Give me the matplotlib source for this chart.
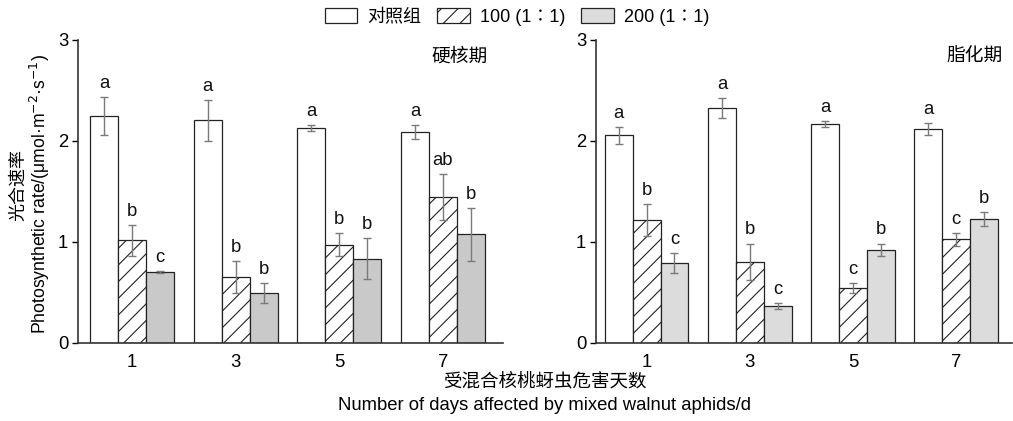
import matplotlib

matplotlib.use("Agg")
import matplotlib.pyplot as plt
import numpy as np
from matplotlib.patches import Patch

plt.rcParams["font.family"] = ["Liberation Sans", "Noto Sans CJK SC", "DejaVu Sans"]
plt.rcParams["hatch.linewidth"] = 0.8

# ---- data ----
days = ["1", "3", "5", "7"]
series_names = ["对照组", "100 (1∶1)", "200 (1∶1)"]

# 硬核期
hard_ctrl = [2.24, 2.20, 2.12, 2.08]
hard_ctrl_err = [0.19, 0.20, 0.03, 0.07]
hard_100 = [1.01, 0.65, 0.97, 1.44]
hard_100_err = [0.15, 0.16, 0.11, 0.23]
hard_200 = [0.70, 0.49, 0.83, 1.07]
hard_200_err = [0.01, 0.10, 0.20, 0.26]
hard_letters_ctrl = ["a", "a", "a", "a"]
hard_letters_100 = ["b", "b", "b", "ab"]
hard_letters_200 = ["c", "b", "b", "b"]

# 脂化期
fat_ctrl = [2.05, 2.32, 2.16, 2.11]
fat_ctrl_err = [0.08, 0.10, 0.03, 0.06]
fat_100 = [1.21, 0.80, 0.54, 1.02]
fat_100_err = [0.16, 0.18, 0.05, 0.06]
fat_200 = [0.79, 0.36, 0.92, 1.22]
fat_200_err = [0.10, 0.03, 0.06, 0.07]
fat_letters_ctrl = ["a", "a", "a", "a"]
fat_letters_100 = ["b", "b", "c", "c"]
fat_letters_200 = ["c", "c", "b", "b"]

W, H = 1013, 421
EDGE = "#222222"
ERR = "#7a7a7a"
FS = 13.3


def draw_panel(ax, vals, errs, letters, gray, xlim, title, title_x):
    x = np.arange(len(days))
    width = 0.27
    offsets = [-width, 0.0, width]
    styles = [
        dict(color="white", hatch=None),
        dict(color="white", hatch="//"),
        dict(color=gray, hatch=None),
    ]
    for v, e, lab, off, st in zip(vals, errs, letters, offsets, styles):
        ax.bar(
            x + off, v, width, color=st["color"], hatch=st["hatch"],
            edgecolor=EDGE, linewidth=0.9, zorder=2,
        )
        ax.errorbar(
            x + off, v, yerr=e, fmt="none", ecolor=ERR, elinewidth=1.0,
            capsize=2.8, capthick=1.0, zorder=3,
        )
        for xi, vi, ei, li in zip(x + off, v, e, lab):
            ax.text(xi, vi + ei + 0.05, li, ha="center", va="bottom", fontsize=FS, color="#111111")

    ax.set_xlim(*xlim)
    ax.set_ylim(0, 3)
    ax.set_xticks(x)
    ax.set_xticklabels(days)
    ax.set_yticks([0, 1, 2, 3])
    for s in ["top", "right"]:
        ax.spines[s].set_visible(False)
    for s in ["left", "bottom"]:
        ax.spines[s].set_linewidth(1.2)
        ax.spines[s].set_color("#333333")
    ax.tick_params(axis="y", direction="out", length=4, width=1.0, labelsize=FS, pad=3)
    ax.tick_params(axis="x", length=0, labelsize=FS, pad=8)
    ax.figure.text(title_x / W, 1 - 57 / H, title, ha="right", va="center", fontsize=13.5)


fig = plt.figure(figsize=(W / 100, H / 100), dpi=100, facecolor="white")
bot = 1 - 342.5 / H
hgt = (342.5 - 39.5) / H
ax1 = fig.add_axes([78 / W, bot, (503 - 78) / W, hgt])
ax2 = fig.add_axes([596 / W, bot, (1012 - 596) / W, hgt])

draw_panel(
    ax1,
    [hard_ctrl, hard_100, hard_200],
    [hard_ctrl_err, hard_100_err, hard_200_err],
    [hard_letters_ctrl, hard_letters_100, hard_letters_200],
    "#c9c9c9", (-0.52, 3.58), "硬核期", 488,
)
draw_panel(
    ax2,
    [fat_ctrl, fat_100, fat_200],
    [fat_ctrl_err, fat_100_err, fat_200_err],
    [fat_letters_ctrl, fat_letters_100, fat_letters_200],
    "#dcdcdc", (-0.49, 3.54), "脂化期", 1003,
)

# axis labels
fig.text(19 / W, 1 - 185 / H, "光合速率", rotation=90, ha="center", va="center", fontsize=13)
fig.text(40 / W, 1 - 194 / H, "Photosynthetic rate/(μmol·m$^{-2}$·s$^{-1}$)",
         rotation=90, ha="center", va="center", fontsize=12.7)
fig.text(545 / W, 1 - 382 / H, "受混合核桃蚜虫危害天数", ha="center", va="center", fontsize=13.3)
fig.text(545 / W, 1 - 405 / H, "Number of days affected by mixed walnut aphids/d",
         ha="center", va="center", fontsize=13.3)

handles = [
    Patch(facecolor="white", edgecolor=EDGE, linewidth=0.9),
    Patch(facecolor="white", edgecolor=EDGE, hatch="//", linewidth=0.9),
    Patch(facecolor="#dcdcdc", edgecolor=EDGE, linewidth=0.9),
]
fig.legend(
    handles, series_names, loc="center", bbox_to_anchor=(517 / W, 1 - 17 / H), ncol=3,
    frameon=False, fontsize=13, handlelength=1.8, handleheight=0.9,
    handletextpad=0.55, columnspacing=0.9, borderaxespad=0, borderpad=0,
)

fig.savefig("out.png", dpi=100, facecolor="white")
